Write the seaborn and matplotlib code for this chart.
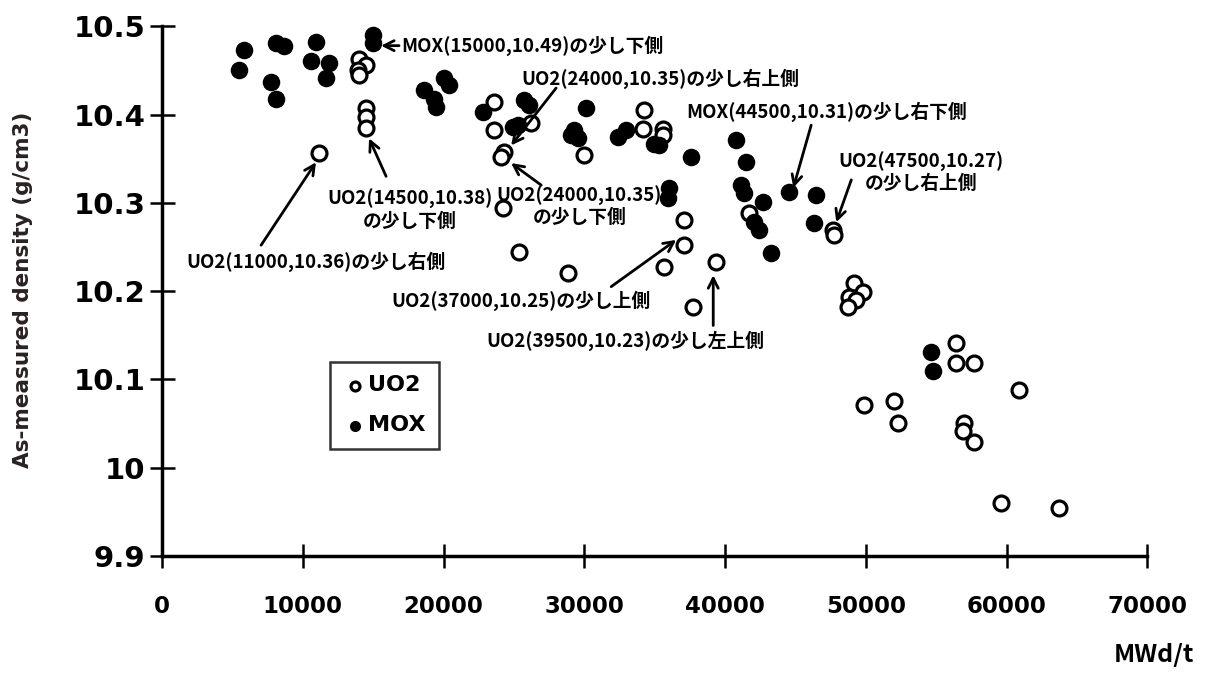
import matplotlib
matplotlib.use('Agg')
import matplotlib.pyplot as plt
import seaborn as sns
import pandas as pd

# burnup (MWd/t) and as-measured density (g/cm3)
uo2_burnup = [14000, 14500, 13930, 14000, 14500, 14500, 14500, 11160,
              23600, 26230, 23600, 24300, 24100, 24230, 25370, 28850,
              29990, 34260, 34180, 35610, 35610, 37100, 37100, 35680,
              37740, 39370, 41720, 47690, 47760, 49180, 49820, 48820,
              49320, 48750, 56430, 56430, 57710, 60910, 49890, 52020,
              52310, 57000, 56930, 57710, 59630, 63750]
uo2_density = [10.463, 10.456, 10.450, 10.445, 10.407, 10.397, 10.385, 10.356,
               10.414, 10.390, 10.382, 10.357, 10.352, 10.294, 10.244, 10.220,
               10.354, 10.405, 10.384, 10.384, 10.377, 10.280, 10.252, 10.227,
               10.182, 10.233, 10.288, 10.269, 10.263, 10.209, 10.199, 10.193,
               10.190, 10.182, 10.141, 10.119, 10.119, 10.088, 10.071, 10.076,
               10.050, 10.050, 10.042, 10.029, 9.960, 9.954]

mox_burnup = [5470, 5830, 8100, 8670, 7750, 8100, 10940, 10590, 11870, 11660,
              15000, 15000, 18620, 19330, 19470, 20040, 20400, 22810, 25730,
              26080, 25300, 24950, 30130, 29280, 29070, 29570, 32410, 32980,
              34970, 35320, 37600, 36030, 35960, 40790, 41500, 41150, 41360,
              42710, 42070, 42430, 43280, 44560, 46480, 46340, 54650, 54800]
mox_density = [10.450, 10.473, 10.481, 10.478, 10.437, 10.418, 10.482, 10.461,
               10.458, 10.441, 10.490, 10.481, 10.428, 10.418, 10.408, 10.441,
               10.433, 10.403, 10.416, 10.411, 10.388, 10.386, 10.407, 10.382,
               10.377, 10.373, 10.374, 10.382, 10.367, 10.365, 10.352, 10.317,
               10.306, 10.371, 10.346, 10.320, 10.311, 10.301, 10.278, 10.269,
               10.243, 10.312, 10.309, 10.277, 10.131, 10.110]

x_ticks = [0, 10000, 20000, 30000, 40000, 50000, 60000, 70000]
y_ticks = [9.9, 10.0, 10.1, 10.2, 10.3, 10.4, 10.5]
y_tick_labels = ['9.9', '10', '10.1', '10.2', '10.3', '10.4', '10.5']

# annotation text, text anchor, arrow tail, arrow head
notes = [
    ('MOX(15000,10.49)の少し下側', (17000, 10.478), 'left', (16840, 10.478), (15560, 10.478)),
    ('UO2(24000,10.35)の少し右上側', (25510, 10.441), 'left', (28000, 10.430), (24800, 10.365)),
    ('MOX(44500,10.31)の少し右下側', (37240, 10.403), 'left', (46120, 10.388), (44850, 10.317)),
    ('UO2(47500,10.27)\nの少し右上側', (53940, 10.334), 'center', (48970, 10.326), (47900, 10.278)),
    ('UO2(14500,10.38)\nの少し下側', (17600, 10.292), 'center', (15920, 10.330), (14710, 10.373)),
    ('UO2(11000,10.36)の少し右側', (1706, 10.233), 'left', (7040, 10.252), (10940, 10.346)),
    ('UO2(24000,10.35)\nの少し下側', (29650, 10.296), 'center', (26940, 10.320), (24800, 10.345)),
    ('UO2(37000,10.25)の少し上側', (16270, 10.189), 'left', (31910, 10.205), (36530, 10.258)),
    ('UO2(39500,10.23)の少し左上側', (23030, 10.144), 'left', (39160, 10.161), (39160, 10.218)),
]

uo2 = pd.DataFrame({'burnup': uo2_burnup, 'density': uo2_density})
mox = pd.DataFrame({'burnup': mox_burnup, 'density': mox_density})

sns.set_theme(style='white')
plt.rcParams['font.family'] = ['Noto Sans CJK JP', 'DejaVu Sans']
plt.rcParams['text.color'] = 'black'

fig = plt.figure(figsize=(12.09, 6.73), dpi=100)
ax = fig.add_axes([0.134, 0.174, 0.815, 0.787])

sns.scatterplot(data=uo2, x='burnup', y='density', ax=ax, marker='o', s=115,
                facecolor='white', edgecolor='black', linewidth=2.3, label='UO2', zorder=3)
sns.scatterplot(data=mox, x='burnup', y='density', ax=ax, marker='o', s=135,
                color='black', edgecolor='black', linewidth=1, label='MOX', zorder=4)

ax.set_xlim(0, 70000)
ax.set_ylim(9.9, 10.5)
ax.set_xticks(x_ticks)
ax.set_xticklabels([str(v) for v in x_ticks], fontsize=16.5, fontweight='bold',
                   family='DejaVu Sans')
ax.set_yticks(y_ticks)
ax.set_yticklabels(y_tick_labels, fontsize=21, fontweight='bold', family='DejaVu Sans')
ax.tick_params(axis='x', bottom=True, direction='inout', length=17, width=1.8, pad=20,
               colors='black')
ax.tick_params(axis='y', left=True, direction='inout', length=18, width=1.8, pad=3,
               colors='black')
for side in ['top', 'right']:
    ax.spines[side].set_visible(False)
for side in ['left', 'bottom']:
    ax.spines[side].set_color('black')
    ax.spines[side].set_linewidth(2.5)
ax.set_xlabel('')
ax.set_ylabel('')

fig.text(0.019, 0.57, 'As-measured density (g/cm3)', rotation=90, ha='center', va='center',
         fontsize=15.5, fontweight='bold', color='#2a2222', family='DejaVu Sans')
fig.text(0.988, 0.027, 'MWd/t', ha='right', va='center', fontsize=18, fontweight='bold',
         color='black')

for txt, pos, ha, tail, head in notes:
    ax.text(pos[0], pos[1], txt, ha=ha, va='center', fontsize=13.5, fontweight='bold',
            linespacing=1.15, color='black', zorder=5)
    ax.annotate('', xy=head, xytext=tail,
                arrowprops=dict(arrowstyle='->', color='black', lw=2,
                                shrinkA=0, shrinkB=0, mutation_scale=18), zorder=5)

leg = ax.legend(loc='upper left', bbox_to_anchor=(0.171, 0.366), markerscale=0.6,
                frameon=True, fancybox=False, edgecolor='black', handletextpad=0.1,
                borderpad=0.6, labelspacing=0.9, handlelength=1.0, borderaxespad=0,
                prop={'size': 16, 'weight': 'bold', 'family': 'DejaVu Sans'})
leg.get_frame().set_linewidth(1.8)
for t in leg.get_texts():
    t.set_color('black')

plt.savefig('out.png', dpi=100)
